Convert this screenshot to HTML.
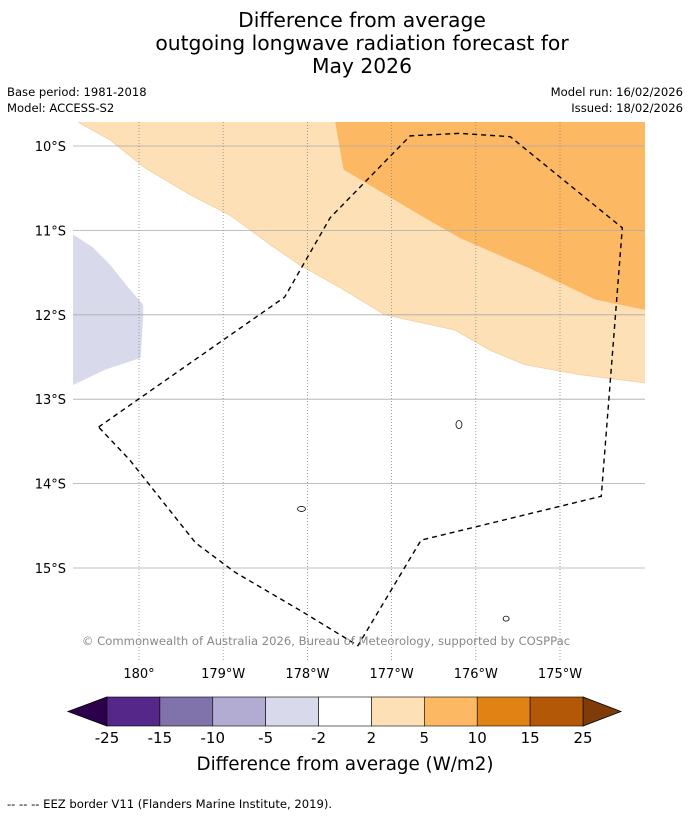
<!DOCTYPE html>
<html><head><meta charset="utf-8"><style>
body{margin:0;background:#fff;font-family:"DejaVu Sans","Liberation Sans",sans-serif}
</style></head><body>
<svg width="690" height="816" xmlns="http://www.w3.org/2000/svg" font-family="DejaVu Sans, Liberation Sans, sans-serif">
<rect width="690" height="816" fill="#fff"/>
<g font-size="20.3" text-anchor="middle" fill="#000">
<text x="362" y="27">Difference from average</text>
<text x="362" y="50">outgoing longwave radiation forecast for</text>
<text x="362" y="73">May 2026</text>
</g>
<g font-size="11.6" fill="#000">
<text x="7" y="96">Base period: 1981-2018</text>
<text x="7" y="112">Model: ACCESS-S2</text>
<text x="683" y="96" text-anchor="end">Model run: 16/02/2026</text>
<text x="683" y="112" text-anchor="end">Issued: 18/02/2026</text>
</g>
<defs><clipPath id="mc"><rect x="73" y="122" width="572" height="538"/></clipPath></defs>
<g id="map" clip-path="url(#mc)"></g>
<g id="axes"></g>
<text x="326" y="645" font-size="11.6" fill="#888" text-anchor="middle">© Commonwealth of Australia 2026, Bureau of Meteorology, supported by COSPPac</text>
<g id="cbar"></g>
<text x="345" y="770" font-size="18.3" text-anchor="middle">Difference from average (W/m2)</text>
<text x="7" y="808" font-size="11.6">--  --  -- EEZ border V11 (Flanders Marine Institute, 2019).</text>
</svg>
<script>
const lonTicks=[180,181,182,183,184,185];
const lonLabels=["180°","179°W","178°W","177°W","176°W","175°W"];
const latTicks=[10,11,12,13,14,15];
const latLabels=["10°S","11°S","12°S","13°S","14°S","15°S"];
const levelLabels=["-25","-15","-10","-5","-2","2","5","10","15","25"];
const levelColors=["#542788","#8073ac","#b2abd2","#d8daeb","#ffffff","#fee0b6","#fdb863","#e08214","#b35806"];
const extendColors=["#2d004b","#7f3b08"];
const lightOrange=[[179.28,9.5],[179.28,9.72],[179.66,9.93],[180.07,10.26],[180.61,10.58],[181.08,10.82],[181.56,11.17],[181.91,11.41],[182.39,11.68],[182.92,12.0],[183.75,12.18],[184.17,12.42],[184.58,12.59],[185.24,12.71],[186.2,12.83],[186.2,9.5]];
const medOrange=[[182.33,9.5],[182.33,9.72],[182.43,10.28],[183.34,10.82],[183.81,11.09],[184.64,11.45],[185.42,11.82],[186.2,11.98],[186.2,9.5]];
const lavender=[[179.0,11.05],[179.22,11.05],[179.45,11.2],[179.66,11.41],[179.85,11.65],[180.05,11.88],[180.05,12.0],[180.02,12.51],[179.6,12.65],[179.22,12.83],[179.0,12.83]];
const eez=[[179.52,13.33],[181.73,11.79],[182.27,10.85],[183.22,9.88],[183.81,9.85],[184.41,9.89],[185.74,10.97],[185.49,14.15],[183.35,14.67],[182.60,15.92],[181.91,15.50],[181.14,15.05],[180.67,14.70],[179.89,13.72],[179.52,13.33]];
const islands=[[183.8,13.3,4,6],[181.93,14.3,6,3],[184.36,15.6,4,3]];
const NS="http://www.w3.org/2000/svg";
const X=l=>139+(l-180)*84.2, Y=l=>146+(l-10)*84.4;
const map=document.getElementById('map'),axes=document.getElementById('axes'),cb=document.getElementById('cbar');
function mk(p,t,a){const e=document.createElementNS(NS,t);for(const k in a)e.setAttribute(k,a[k]);p.appendChild(e);return e;}
const pts=a=>a.map(p=>X(p[0])+','+Y(p[1])).join(' ');
let e;
e=mk(map,'polygon',{points:pts(lightOrange),fill:"#fee0b6",stroke:"#f5cf9a","stroke-width":0.8});

e=mk(map,'polygon',{points:pts(medOrange),fill:"#fdb863"});

e=mk(map,'polygon',{points:pts(lavender),fill:"#d8daeb"});

latTicks.forEach((t,i)=>{
 e=mk(map,'line',{x1:73,x2:645,y1:Y(t),y2:Y(t),stroke:"#aaa","stroke-width":0.8});
 
 e=mk(axes,'text',{x:66,y:Y(t)+5,"font-size":13,"text-anchor":"end"});e.textContent=latLabels[i];
 
});
lonTicks.forEach((t,i)=>{
 e=mk(map,'line',{x1:X(t),x2:X(t),y1:122,y2:660,stroke:"#888","stroke-width":0.8,"stroke-dasharray":"1,2"});
 
 e=mk(axes,'text',{x:X(t),y:678,"font-size":13,"text-anchor":"middle"});e.textContent=lonLabels[i];
 
});
e=mk(map,'polyline',{points:pts(eez),fill:"none",stroke:"#000","stroke-width":1.4,"stroke-dasharray":"5,4"});

islands.forEach(s=>{
 e=mk(map,'ellipse',{cx:X(s[0]),cy:Y(s[1]),rx:s[2]/2+1,ry:s[3]/2+1,fill:"none",stroke:"#000","stroke-width":0.8});
 
});
const x0=107,x1=583,y0=697,y1=726,w=(x1-x0)/levelColors.length;
e=mk(cb,'polygon',{points:`${x0},${y0} ${x0},${y1} 68,${(y0+y1)/2}`,fill:extendColors[0],stroke:"#000","stroke-width":0.8});

e=mk(cb,'polygon',{points:`${x1},${y0} ${x1},${y1} 621,${(y0+y1)/2}`,fill:extendColors[1],stroke:"#000","stroke-width":0.8});

levelColors.forEach((c,i)=>{
 e=mk(cb,'rect',{x:x0+i*w,y:y0,width:w,height:y1-y0,fill:c,stroke:"#000","stroke-width":0.6});
 
});
levelLabels.forEach((l,i)=>{
 e=mk(cb,'text',{x:x0+i*w,y:743,"font-size":15,"text-anchor":"middle"});e.textContent=l;
 
});
</script>
</body></html>
